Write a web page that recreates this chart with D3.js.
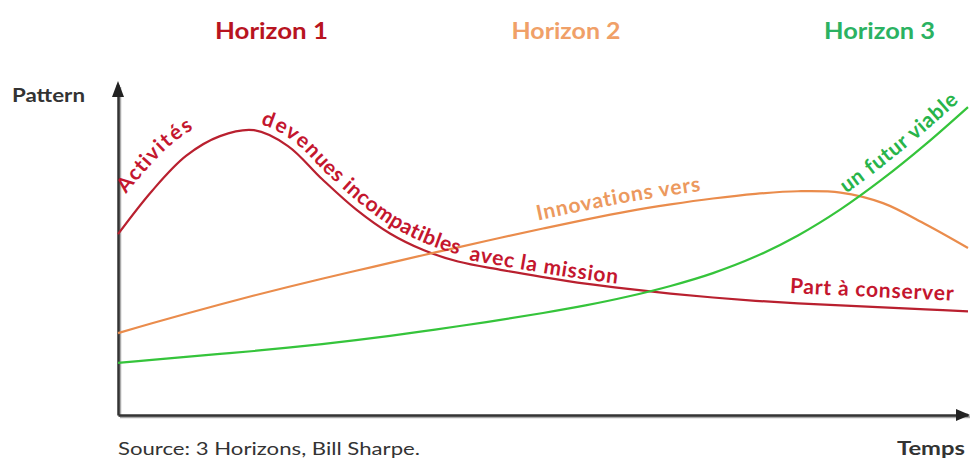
<!DOCTYPE html>
<html><head><meta charset="utf-8">
<script src="https://cdn.jsdelivr.net/npm/d3@7"></script>
<style>body{margin:0;background:#fff}svg{display:block}</style>
</head><body><svg id="c" width="970" height="460"></svg>
<script>
// ---- data ----
const timeSteps = [0,4,8,12,16,20,24,28,32,36,40,45,50,55,60,65,70,75,80,85,90,95,100];
const horizon1 = [54.8,67.9,78.5,84.5,86.3,81.5,71.5,62.3,55.0,49.9,46.5,44.0,41.8,39.8,38.2,36.8,35.6,34.6,33.8,33.2,32.6,32.0,31.4];
const horizon2 = [24.8,27.8,30.7,33.5,36.2,38.8,41.3,43.7,46.1,48.5,50.8,53.7,56.5,59.2,61.7,63.8,65.6,67.0,67.8,67.4,64.2,57.8,50.6];
const horizon3 = [15.8,16.7,17.6,18.5,19.4,20.4,21.5,22.7,24.0,25.4,26.9,28.8,30.9,33.2,35.9,39.1,43.0,48.0,54.4,62.3,71.6,82.0,93.3];
const horizonTitles = ["Horizon 1","Horizon 2","Horizon 3"];
const curveLabelTexts = ["Activités","devenues incompatibles","avec la mission","Part à conserver","Innovations vers","un futur viable"];
const yAxisLabel = "Pattern";
const xAxisLabel = "Temps";
const sourceText = "Source: 3 Horizons, Bill Sharpe.";

// ---- layout / style ----
const FONT = "Lato, 'Open Sans', sans-serif";
const lineColors = ["#b9202f","#ea8c4c","#35c43b"];
const textColors = ["#c4162e","#ec995e","#27b44a"];
const titleColors = ["#b8141f","#f0a068","#2bb262"];
const titleCfg = [{cx:271.5,w:113},{cx:566,w:109},{cx:879.5,w:111}];
const labelCfg = [
  {series:0, startX:140, dy:-18},
  {series:0, startX:258, dy:-7},
  {series:0, startX:468, dy:-4},
  {series:0, startX:789, dy:-10},
  {series:1, startX:540, dy:-9},
  {series:2, startX:852, dy:-10}
];

const svg = d3.select("#c");
const x = d3.scaleLinear().domain([0,100]).range([118,968]);
const y = d3.scaleLinear().domain([0,100]).range([415,85]);

// axes (no ticks)
const axG = svg.append("g");
const xAxis = d3.axisBottom(x).tickValues([]).tickSizeOuter(0);
const yAxis = d3.axisLeft(y).tickValues([]).tickSizeOuter(0);
axG.append("g").attr("transform",`translate(1.5,${y(0)+1.5})`).call(xAxis)
  .select(".domain").attr("stroke","#aaa").attr("stroke-width",2.5);
axG.append("g").attr("transform",`translate(${x(0)+1.5},1.5)`).call(yAxis)
  .select(".domain").attr("stroke","#aaa").attr("stroke-width",2.5);
axG.append("g").attr("transform",`translate(0,${y(0)})`).call(xAxis)
  .select(".domain").attr("stroke","#333").attr("stroke-width",2.5);
axG.append("g").attr("transform",`translate(${x(0)},0)`).call(yAxis)
  .select(".domain").attr("stroke","#333").attr("stroke-width",2.5);
axG.append("line").attr("x1",x(0)).attr("x2",x(0)).attr("y1",y(100)).attr("y2",96).attr("stroke","#333").attr("stroke-width",2.5);
axG.append("line").attr("x1",x(100)).attr("x2",958).attr("y1",y(0)).attr("y2",y(0)).attr("stroke","#333").attr("stroke-width",2.5);
axG.append("path").attr("d",`M${x(0)},81 L${x(0)-6},97 L${x(0)+6},97 Z`).attr("fill","#222");
axG.append("path").attr("d",`M970,${y(0)} L956,${y(0)-6} L956,${y(0)+6} Z`).attr("fill","#222");

// curves
const line = d3.line().x((d,i)=>x(timeSteps[i])).y(d=>y(d)).curve(d3.curveCatmullRom.alpha(0.5));
const series = [horizon1,horizon2,horizon3];
const paths = series.map((s,i)=> svg.append("path").attr("id","curve"+i)
  .attr("d",line(s)).attr("fill","none").attr("stroke",lineColors[i]).attr("stroke-width",2.2).node());

function lengthAtX(p, px){
  let lo=0, hi=p.getTotalLength();
  for(let k=0;k<40;k++){ const m=(lo+hi)/2; if(p.getPointAtLength(m).x<px) lo=m; else hi=m; }
  return lo;
}

labelCfg.forEach((c,i)=>{
  const p = paths[c.series];
  svg.append("text").attr("font-family",FONT).attr("font-weight","bold").attr("font-size",21)
    .attr("letter-spacing",0.8)
    .attr("fill",textColors[c.series]).attr("dy",c.dy)
    .append("textPath").attr("href","#curve"+c.series)
    .attr("startOffset",lengthAtX(p,c.startX))
    .text(curveLabelTexts[i]);
});

// titles
horizonTitles.forEach((t,i)=>{
  svg.append("text").attr("x",titleCfg[i].cx - titleCfg[i].w/2).attr("y",39)
    .attr("textLength",titleCfg[i].w).attr("lengthAdjust","spacingAndGlyphs")
    .attr("font-family",FONT).attr("font-weight","bold").attr("font-size",23)
    .attr("fill",titleColors[i]).text(t);
});

svg.append("text").attr("x",12).attr("y",102).attr("textLength",73).attr("lengthAdjust","spacingAndGlyphs")
  .attr("font-family",FONT).attr("font-weight","bold")
  .attr("font-size",18).attr("fill","#333").text(yAxisLabel);
svg.append("text").attr("x",897).attr("y",455).attr("textLength",68).attr("lengthAdjust","spacingAndGlyphs")
  .attr("font-family",FONT).attr("font-weight","bold")
  .attr("font-size",18).attr("fill","#333").text(xAxisLabel);
svg.append("text").attr("x",118).attr("y",455).attr("textLength",302).attr("lengthAdjust","spacingAndGlyphs")
  .attr("font-family",FONT)
  .attr("font-size",17).attr("fill","#333").text(sourceText);
</script></body></html>
